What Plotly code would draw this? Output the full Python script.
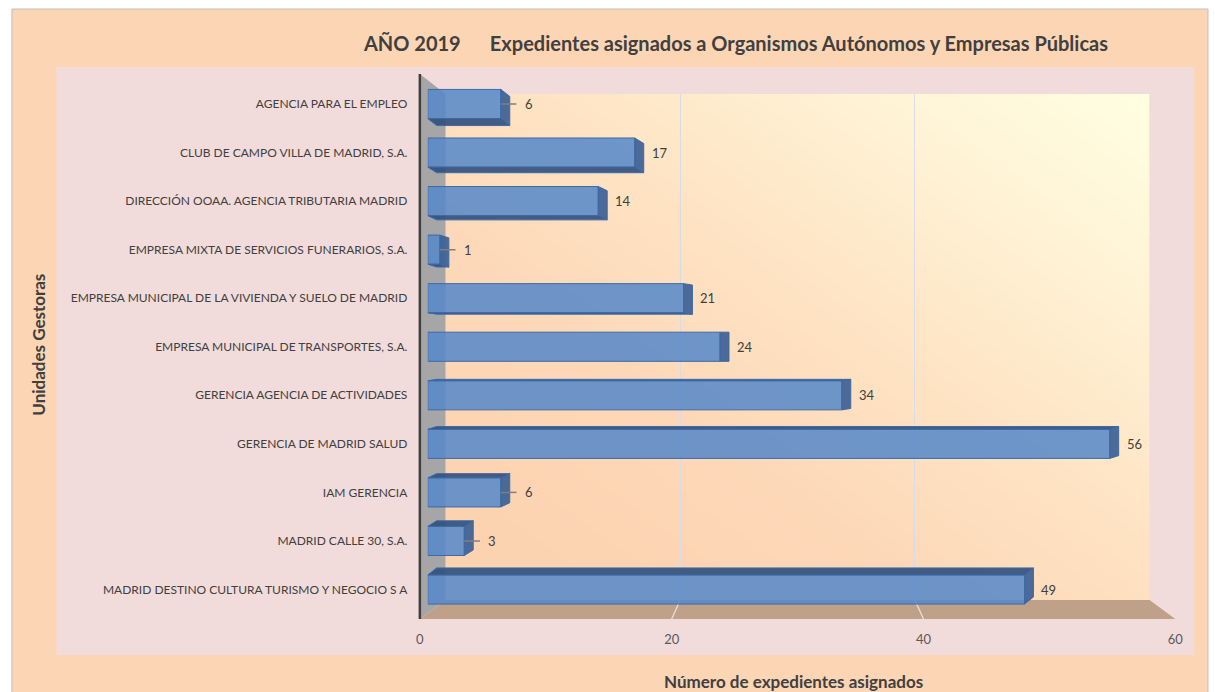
import numpy as np
import plotly.graph_objects as go

# ---------------- data ----------------
categories = [
    "AGENCIA PARA EL EMPLEO",
    "CLUB DE CAMPO VILLA DE MADRID, S.A.",
    "DIRECCIÓN OOAA. AGENCIA TRIBUTARIA MADRID",
    "EMPRESA MIXTA DE SERVICIOS FUNERARIOS, S.A.",
    "EMPRESA MUNICIPAL DE LA VIVIENDA Y SUELO DE MADRID",
    "EMPRESA MUNICIPAL DE TRANSPORTES, S.A.",
    "GERENCIA AGENCIA DE ACTIVIDADES",
    "GERENCIA DE MADRID SALUD",
    "IAM GERENCIA",
    "MADRID CALLE 30, S.A.",
    "MADRID DESTINO CULTURA TURISMO Y NEGOCIO S A",
]
expedientes = [6, 17, 14, 1, 21, 24, 34, 56, 6, 3, 49]
x_ticks = [0, 20, 40, 60]
x_range = [0, 60]

title_text = "AÑO 2019" + "\u00a0" * 6 + "Expedientes asignados a Organismos Autónomos y Empresas Públicas"
x_title = "Número de expedientes asignados"
y_title = "Unidades Gestoras"

# ---------------- geometry / style ----------------
W, H = 1215, 692
def PX(x):
    return x / W
def PY(y):
    return 1 - y / H

FRONT_L, FRONT_R = 420, 1183
BACK_L, BACK_R = 446, 1157
WALL_T, WALL_B = 94, 600
FLOOR_F = 619
AXIS_TOP = 74
BAR_L, BAR_R = 428, 1166
CAT0, CAT_STEP = 104.0, 48.55
n = len(categories)
cat_top = CAT0 - CAT_STEP / 2
cat_bot = CAT0 + (n - 0.5) * CAT_STEP

FONT = "Lato, 'Open Sans', sans-serif"
TXT = "#404040"
BAR_W = 0.6
DX_PX = 9.0
DY_TOP, DY_BOT = 7.0, -7.0
unit_px = (BAR_R - BAR_L) / (x_range[1] - x_range[0])
dx = DX_PX / unit_px

idx = list(range(n))

fig = go.Figure()

# back wall gradient (subplot 1)
g = 40
u = np.linspace(0, 1, g)
U, V = np.meshgrid(u, u)
Z = (U * 0.5 + V * 0.5)
fig.add_trace(go.Heatmap(
    x=u, y=u, z=Z, xaxis="x", yaxis="y", zsmooth="best", showscale=False,
    hoverinfo="skip",
    colorscale=[[0, "#FCD1AE"], [0.35, "#FDD8B8"], [0.6, "#FEE6C6"], [0.8, "#FFF3D6"], [1, "#FFFFE2"]],
))

# back wall gridlines (subplot 2)
fig.add_trace(go.Scatter(x=x_ticks, y=[0] * len(x_ticks), xaxis="x2", yaxis="y2",
                         mode="markers", marker=dict(opacity=0), hoverinfo="skip", showlegend=False))

# front tick labels (subplot 4)
fig.add_trace(go.Scatter(x=x_ticks, y=[0] * len(x_ticks), xaxis="x4", yaxis="y4",
                         mode="markers", marker=dict(opacity=0), hoverinfo="skip", showlegend=False))

# bars (subplot 3)
fig.add_trace(go.Bar(
    x=expedientes, y=idx, orientation="h", width=BAR_W, xaxis="x3", yaxis="y3",
    marker=dict(color="rgba(86,136,202,0.86)", line=dict(color="#3D6AA8", width=1)),
    hoverinfo="x+y", showlegend=False,
))

shapes = []
# outer frame
shapes.append(dict(type="rect", xref="paper", yref="paper", x0=PX(8), x1=PX(1216), y0=PY(9), y1=PY(693),
                   fillcolor="#FCD5B4", line=dict(color="#BFBFBF", width=1), layer="below"))
# inner panel
shapes.append(dict(type="rect", xref="paper", yref="paper", x0=PX(53), x1=PX(1202), y0=PY(67), y1=PY(655),
                   fillcolor="#F2DCDB", line=dict(width=0), layer="below"))
# side wall
shapes.append(dict(type="path", xref="paper", yref="paper",
                   path=f"M {PX(FRONT_L)},{PY(AXIS_TOP)} L {PX(BACK_L)},{PY(WALL_T)} L {PX(BACK_L)},{PY(WALL_B)} L {PX(FRONT_L)},{PY(FLOOR_F)} Z",
                   fillcolor="#A6A6A6", line=dict(width=0), layer="below"))
# floor
shapes.append(dict(type="path", xref="paper", yref="paper",
                   path=f"M {PX(FRONT_L)},{PY(FLOOR_F)} L {PX(FRONT_R)},{PY(FLOOR_F)} L {PX(BACK_R)},{PY(WALL_B)} L {PX(BACK_L)},{PY(WALL_B)} Z",
                   fillcolor="#BFA088", line=dict(width=0), layer="below"))
# floor gridlines
span = x_range[1] - x_range[0]
for v in x_ticks[1:-1]:
    bx = BACK_L + (v - x_range[0]) / span * (BACK_R - BACK_L)
    fx = FRONT_L + (v - x_range[0]) / span * (FRONT_R - FRONT_L)
    shapes.append(dict(type="line", xref="paper", yref="paper", x0=PX(bx), y0=PY(WALL_B), x1=PX(fx), y1=PY(FLOOR_F),
                       line=dict(color="#E8E4E0", width=1.2), layer="below"))
# dark axis line
shapes.append(dict(type="line", xref="paper", yref="paper", x0=PX(FRONT_L), x1=PX(FRONT_L), y0=PY(AXIS_TOP), y1=PY(FLOOR_F),
                   line=dict(color="#3F3F3F", width=2.5), layer="above"))

annotations = []
h = BAR_W / 2
for i, v in enumerate(expedientes):
    dy_px = DY_TOP + (DY_BOT - DY_TOP) * i / (n - 1)
    dy = dy_px / CAT_STEP
    top, bot = i - h, i + h
    # right face
    shapes.append(dict(type="path", xref="x3", yref="y3",
                       path=f"M {v},{top} L {v+dx},{top+dy} L {v+dx},{bot+dy} L {v},{bot} Z",
                       fillcolor="rgba(60,95,148,0.92)", line=dict(color="#3D6AA8", width=1), layer="above"))
    # bottom or top face
    edge = bot if dy > 0 else top
    if abs(dy_px) > 0.5:
        shapes.append(dict(type="path", xref="x3", yref="y3",
                           path=f"M 0,{edge} L {v},{edge} L {v+dx},{edge+dy} L {dx},{edge+dy} Z",
                           fillcolor="rgba(50,80,125,0.92)", line=dict(color="#3D6AA8", width=1), layer="above"))
    shift = 6
    if v < 10:
        shapes.append(dict(type="line", xref="x3", yref="y3", x0=v, x1=v + dx + 0.55, y0=i, y1=i,
                           line=dict(color="#7F7F7F", width=1.5), layer="above"))
        shift = 13
    annotations.append(dict(x=v + dx, y=i, xref="x3", yref="y3", text=str(v), showarrow=False,
                            xanchor="left", yanchor="middle", xshift=shift,
                            font=dict(family=FONT, size=13, color=TXT)))

annotations.append(dict(x=PX(797), y=PY(681), xref="paper", yref="paper", text=f"<b>{x_title}</b>",
                        showarrow=False, xanchor="center", yanchor="middle",
                        font=dict(family=FONT, size=17, color=TXT)))
annotations.append(dict(x=PX(34), y=PY(345), xref="paper", yref="paper", text=f"<b>{y_title}</b>",
                        showarrow=False, xanchor="center", yanchor="middle", textangle=-90,
                        font=dict(family=FONT, size=17, color=TXT)))

hidden = dict(visible=False, showgrid=False, zeroline=False)
wall_x = [PX(BACK_L), PX(BACK_R)]
wall_y = [PY(WALL_B), PY(WALL_T)]

fig.update_layout(
    width=W, height=H, autosize=False,
    margin=dict(l=0, r=0, t=0, b=0),
    paper_bgcolor="white", plot_bgcolor="rgba(0,0,0,0)",
    showlegend=False,
    title=dict(text=f"<b>{title_text}</b>", x=PX(736), y=PY(44), xanchor="center", yanchor="middle",
               font=dict(family=FONT, size=20, color=TXT)),
    xaxis=dict(domain=wall_x, range=[0, 1], **hidden),
    yaxis=dict(domain=wall_y, range=[0, 1], **hidden),
    xaxis2=dict(domain=wall_x, range=x_range, anchor="y2", tickvals=x_ticks, showgrid=True,
                gridcolor="#D9DCE2", gridwidth=1.2, zeroline=False, showticklabels=False, showline=False),
    yaxis2=dict(domain=wall_y, range=[0, 1], anchor="x2", **hidden),
    xaxis4=dict(domain=[PX(FRONT_L), PX(FRONT_R)], range=x_range, anchor="y4", tickvals=x_ticks,
                showgrid=False, zeroline=False, showline=False, ticks="outside", ticklen=8,
                tickcolor="rgba(0,0,0,0)", tickfont=dict(family=FONT, size=13, color="#595959")),
    yaxis4=dict(domain=[PY(FLOOR_F), PY(WALL_B)], range=[0, 1], anchor="x4", **hidden),
    xaxis3=dict(domain=[PX(BAR_L), PX(BAR_R)], range=x_range, anchor="y3", showgrid=False,
                zeroline=False, showticklabels=False, showline=False),
    yaxis3=dict(domain=[PY(cat_bot), PY(cat_top)], range=[n - 0.5, -0.5], anchor="x3",
                tickvals=idx, ticktext=categories, showgrid=False, zeroline=False, showline=False,
                ticks="outside", ticklen=17, tickcolor="rgba(0,0,0,0)",
                tickfont=dict(family=FONT, size=12, color=TXT)),
    shapes=shapes,
    annotations=annotations,
)

fig.write_html("out.html", config={"displayModeBar": False},
               post_script="document.body.style.margin='0';document.body.style.overflow='hidden';")
